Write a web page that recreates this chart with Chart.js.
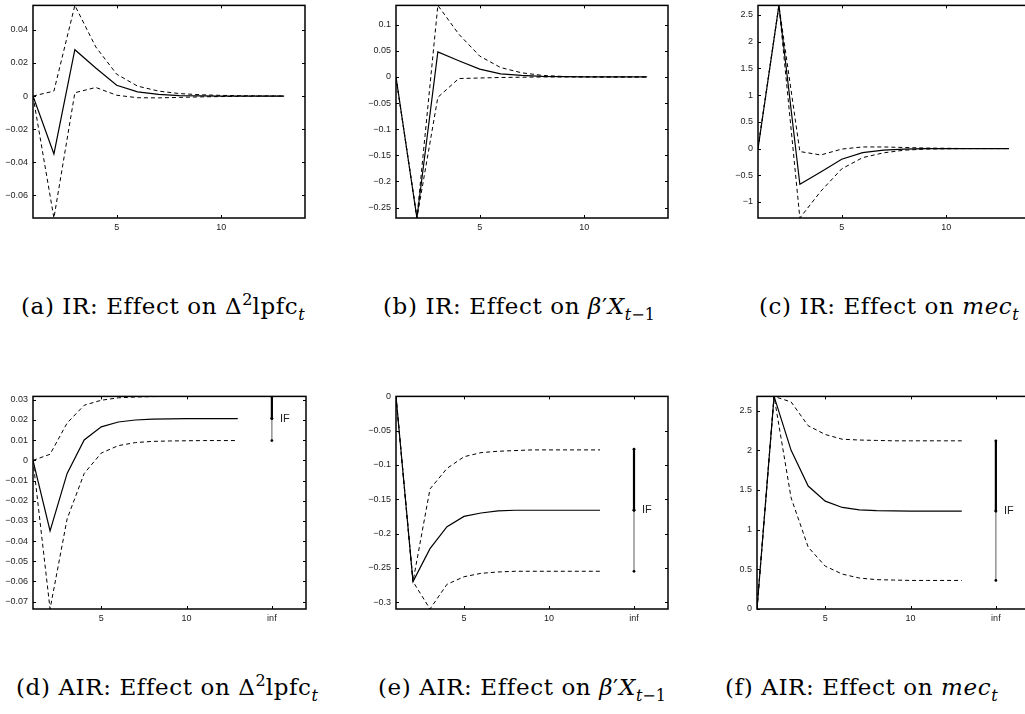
<!DOCTYPE html>
<html>
<head>
<meta charset="utf-8">
<script src="https://cdn.jsdelivr.net/npm/chart.js@4.4.1/dist/chart.umd.min.js"></script>
<style>
body { margin: 0; background: #fff; overflow: hidden; width: 1025px; height: 714px; position: relative; }
canvas { position: absolute; }
.cap { position: absolute; font-family: "DejaVu Serif", "Liberation Serif", serif; font-size: 23px; line-height: 23px; letter-spacing: 0.6px; white-space: nowrap; color: #000; }
.cap sup, .cap sub { font-size: 16px; line-height: 0; letter-spacing: 0; }
</style>
</head>
<body>
<div class="cap" style="left:21px; top:295px">(a) IR: Effect on &Delta;<sup>2</sup>lpfc<sub><i>t</i></sub></div>
<div class="cap" style="left:383px; top:295px">(b) IR: Effect on <i>&beta;</i>&prime;<i>X</i><sub><i>t</i>&minus;1</sub></div>
<div class="cap" style="left:759px; top:295px">(c) IR: Effect on <i>mec</i><sub><i>t</i></sub></div>
<div class="cap" style="left:16px; top:676px">(d) AIR: Effect on &Delta;<sup>2</sup>lpfc<sub><i>t</i></sub></div>
<div class="cap" style="left:378px; top:676px">(e) AIR: Effect on <i>&beta;</i>&prime;<i>X</i><sub><i>t</i>&minus;1</sub></div>
<div class="cap" style="left:725px; top:676px">(f) AIR: Effect on <i>mec</i><sub><i>t</i></sub></div>
<script>
// horizons
const steps = [1, 2, 3, 4, 5, 6, 7, 8, 9, 10, 11, 12, 13];

// impulse responses (point estimate, upper and lower band)
const irLpfc   = [0, -0.035, 0.028, 0.017, 0.0065, 0.0025, 0.001, 0.0003, 0.0001, 0, 0, 0, 0];
const irLpfcUp = [0, 0.003, 0.0548, 0.0297, 0.0132, 0.006, 0.003, 0.0015, 0.0008, 0.0004, 0.0002, 0.0001, 0];
const irLpfcLo = [0, -0.0737, 0.002, 0.0052, 0.0005, -0.001, -0.0011, -0.0008, -0.0005, -0.0003, -0.0001, 0, 0];

const irBeta   = [0, -0.27, 0.048, 0.031, 0.015, 0.006, 0.003, 0.001, 0.0005, 0, 0, 0, 0];
const irBetaUp = [0, -0.27, 0.137, 0.082, 0.04, 0.018, 0.008, 0.003, 0.001, 0.0005, 0, 0, 0];
const irBetaLo = [0, -0.27, -0.039, -0.003, -0.002, -0.001, -0.0005, 0, 0, 0, 0, 0, 0];

const irMec   = [0, 2.68, -0.67, -0.44, -0.2, -0.075, -0.03, -0.01, -0.003, 0, 0, 0, 0];
const irMecUp = [0, 2.68, -0.056, -0.12, -0.01, 0.03, 0.03, 0.02, 0.01, 0.005, 0, 0, 0];
const irMecLo = [0, 2.68, -1.30, -0.80, -0.38, -0.17, -0.08, -0.03, -0.01, -0.005, 0, 0, 0];

// accumulated impulse responses
const airLpfc   = [0, -0.035, -0.0065, 0.0101, 0.0166, 0.019, 0.020, 0.0204, 0.0206, 0.0207, 0.0207, 0.0207, 0.0207];
const airLpfcUp = [0, 0.003, 0.0185, 0.0273, 0.0298, 0.031, 0.0314, 0.0316, 0.0317, 0.0317, 0.0317, 0.0317, 0.0317];
const airLpfcLo = [0, -0.0737, -0.029, -0.0065, 0.0036, 0.0073, 0.0088, 0.0094, 0.0096, 0.0097, 0.0098, 0.0098, 0.0098];

const airBeta   = [0, -0.27, -0.222, -0.19, -0.175, -0.17, -0.167, -0.166, -0.166, -0.166, -0.166, -0.166, -0.166];
const airBetaUp = [0, -0.27, -0.135, -0.105, -0.088, -0.082, -0.080, -0.079, -0.078, -0.078, -0.078, -0.078, -0.078];
const airBetaLo = [0, -0.27, -0.31, -0.274, -0.263, -0.258, -0.256, -0.255, -0.255, -0.255, -0.255, -0.255, -0.255];

const airMec   = [0, 2.68, 2.0, 1.55, 1.36, 1.28, 1.25, 1.24, 1.236, 1.235, 1.235, 1.235, 1.235];
const airMecUp = [0, 2.68, 2.61, 2.31, 2.2, 2.14, 2.13, 2.125, 2.12, 2.12, 2.12, 2.12, 2.12];
const airMecLo = [0, 2.68, 1.40, 0.78, 0.54, 0.44, 0.39, 0.37, 0.365, 0.36, 0.36, 0.36, 0.36];

// long run effect (IF): lower, point, upper
const infHorizon = 15;
const ifLpfc = [0.0098, 0.0207, 0.0317];
const ifBeta = [-0.255, -0.166, -0.077];
const ifMec  = [0.36, 1.235, 2.12];

// tick labels
const irXTicks = [5, 10];
const irXLabels = ['5', '10'];
const airXTicks = [5, 10, 15];
const airXLabels = ['5', '10', 'inf'];
const yTicksA = [-0.06, -0.04, -0.02, 0, 0.02, 0.04];
const yTicksB = [-0.25, -0.2, -0.15, -0.1, -0.05, 0, 0.05, 0.1];
const yTicksC = [-1, -0.5, 0, 0.5, 1, 1.5, 2, 2.5];
const yTicksD = [-0.07, -0.06, -0.05, -0.04, -0.03, -0.02, -0.01, 0, 0.01, 0.02, 0.03];
const yTicksE = [-0.3, -0.25, -0.2, -0.15, -0.1, -0.05, 0];
const yTicksF = [0, 0.5, 1, 1.5, 2, 2.5];

Chart.defaults.font.family = '"Liberation Sans", Arial, sans-serif';
Chart.defaults.font.size = 9;
Chart.defaults.color = '#222';

const panels = [
    { box: [33, 3, 305, 218], xMax: 14, xTicks: irXTicks, xLabels: irXLabels, yTicks: yTicksA, mid: irLpfc, up: irLpfcUp, lo: irLpfcLo },
    { box: [396, 3, 668, 218], xMax: 14, xTicks: irXTicks, xLabels: irXLabels, yTicks: yTicksB, mid: irBeta, up: irBetaUp, lo: irBetaLo },
    { box: [758, 3, 1030, 218], xMax: 14, xTicks: irXTicks, xLabels: irXLabels, yTicks: yTicksC, mid: irMec, up: irMecUp, lo: irMecLo },
    { box: [33, 394, 306, 609], xMax: 17, xTicks: airXTicks, xLabels: airXLabels, yTicks: yTicksD, mid: airLpfc, up: airLpfcUp, lo: airLpfcLo, inf: ifLpfc },
    { box: [396, 394, 668, 609], xMax: 17, xTicks: airXTicks, xLabels: airXLabels, yTicks: yTicksE, mid: airBeta, up: airBetaUp, lo: airBetaLo, inf: ifBeta },
    { box: [757, 394, 1030, 609], xMax: 17, xTicks: airXTicks, xLabels: airXLabels, yTicks: yTicksF, mid: airMec, up: airMecUp, lo: airMecLo, inf: ifMec }
];

const PAD_L = 45, PAD_T = 8, PAD_R = 6, PAD_B = 22;

function fmtTick(v) {
    return String(parseFloat(v.toFixed(4))).replace('-', '\u2212');
}

function toPoints(ys) {
    return steps.map((s, i) => ({ x: s, y: ys[i] }));
}

// matlab style box with inward ticks, plus the IF label
const boxPlugin = {
    id: 'matlabBox',
    afterDatasetsDraw(chart, args, opts) {
        const { ctx, chartArea: a, scales: { x, y } } = chart;
        ctx.save();
        ctx.strokeStyle = '#000';
        ctx.lineWidth = 1;
        ctx.beginPath();
        x.ticks.forEach(t => {
            const px = Math.round(x.getPixelForValue(t.value)) + 0.5;
            ctx.moveTo(px, a.bottom); ctx.lineTo(px, a.bottom - 3);
            ctx.moveTo(px, a.top); ctx.lineTo(px, a.top + 3);
        });
        y.ticks.forEach(t => {
            const py = Math.round(y.getPixelForValue(t.value)) + 0.5;
            ctx.moveTo(a.left, py); ctx.lineTo(a.left + 3, py);
            ctx.moveTo(a.right, py); ctx.lineTo(a.right - 3, py);
        });
        ctx.stroke();
        ctx.lineWidth = 1.5;
        ctx.strokeRect(a.left, a.top, a.right - a.left, a.bottom - a.top);
        if (opts.inf) {
            ctx.fillStyle = '#222';
            ctx.font = '11px "Liberation Sans", Arial, sans-serif';
            ctx.textBaseline = 'middle';
            ctx.fillText('IF', x.getPixelForValue(infHorizon) + 8, y.getPixelForValue(opts.inf[1]));
        }
        ctx.restore();
    }
};

panels.forEach(p => {
    const [l, t, r, b] = p.box;
    const canvas = document.createElement('canvas');
    canvas.width = (r - l) + PAD_L + PAD_R;
    canvas.height = (b - t) + PAD_T + PAD_B;
    canvas.style.left = (l - PAD_L) + 'px';
    canvas.style.top = (t - PAD_T) + 'px';
    document.body.appendChild(canvas);

    // tight y limits like matlab's axis tight
    const all = p.mid.concat(p.up, p.lo, p.inf || []);
    const yMin = Math.min(...all);
    const yMax = Math.max(...all);

    const datasets = [
        { data: toPoints(p.mid), borderColor: '#000', borderWidth: 1.2 },
        { data: toPoints(p.up), borderColor: '#000', borderWidth: 1, borderDash: [4, 3] },
        { data: toPoints(p.lo), borderColor: '#000', borderWidth: 1, borderDash: [4, 3] }
    ];
    if (p.inf) {
        datasets.push({
            data: [{ x: infHorizon, y: p.inf[1] }, { x: infHorizon, y: p.inf[2] }],
            borderColor: '#000', borderWidth: 2.2,
            pointRadius: 1.4, pointBackgroundColor: '#000', pointBorderWidth: 0
        });
        datasets.push({
            data: [{ x: infHorizon, y: p.inf[0] }, { x: infHorizon, y: p.inf[1] }],
            borderColor: '#777', borderWidth: 1.2,
            pointRadius: 1.4, pointBackgroundColor: '#000', pointBorderWidth: 0
        });
    }
    datasets.forEach(d => {
        d.fill = false;
        d.tension = 0;
        if (d.pointRadius === undefined) d.pointRadius = 0;
    });

    new Chart(canvas.getContext('2d'), {
        type: 'line',
        data: { datasets: datasets },
        options: {
            responsive: false,
            animation: false,
            layout: { padding: { top: PAD_T, right: PAD_R, left: 0, bottom: 0 } },
            plugins: {
                legend: { display: false },
                tooltip: { enabled: false },
                matlabBox: { inf: p.inf || null }
            },
            scales: {
                x: {
                    type: 'linear',
                    min: 1,
                    max: p.xMax,
                    grid: { display: false, drawTicks: false },
                    border: { display: false },
                    afterBuildTicks: s => { s.ticks = p.xTicks.map(v => ({ value: v })); },
                    afterFit: s => { s.height = PAD_B; },
                    ticks: {
                        autoSkip: false,
                        maxRotation: 0,
                        padding: 4,
                        callback: (v, i) => p.xLabels[i]
                    }
                },
                y: {
                    type: 'linear',
                    min: yMin,
                    max: yMax,
                    grid: { display: false, drawTicks: false },
                    border: { display: false },
                    afterBuildTicks: s => { s.ticks = p.yTicks.map(v => ({ value: v })); },
                    afterFit: s => { s.width = PAD_L; },
                    ticks: {
                        autoSkip: false,
                        padding: 5,
                        callback: v => fmtTick(v)
                    }
                }
            }
        },
        plugins: [boxPlugin]
    });
});
</script>
</body>
</html>
